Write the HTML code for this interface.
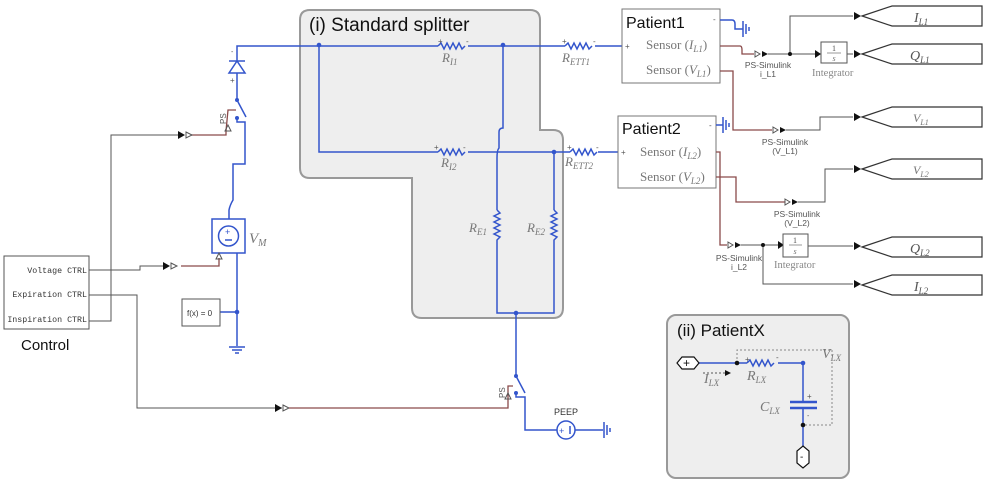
<!DOCTYPE html>
<html><head><style>
html,body{margin:0;padding:0;background:#fff;}
svg{display:block;}
.b{stroke:#3355cc;stroke-width:1.5;fill:none}
.g{stroke:#555;stroke-width:1;fill:none}
.r{stroke:#8a4a4a;stroke-width:1.3;fill:none}
.m{font-family:"Liberation Serif",serif;font-style:italic;fill:#777}
.s{font-family:"Liberation Sans",sans-serif}
.mono{font-family:"Liberation Mono",monospace;font-size:8.3px;fill:#333}
</style></head><body>
<svg width="988" height="485" viewBox="0 0 988 485" xmlns="http://www.w3.org/2000/svg">
<path d="M310,10 H530 Q540,10 540,20 V130 H553 Q563,130 563,140 V308 Q563,318 553,318 H422 Q412,318 412,308 V178 H310 Q300,178 300,168 V20 Q300,10 310,10 Z" fill="#eeeeee" stroke="#999" stroke-width="2"/>
<text x="309" y="31" class="s" font-size="19" fill="#111">(i) Standard splitter</text>
<rect x="667" y="315" width="182" height="163" rx="9" fill="#eeeeee" stroke="#999" stroke-width="2"/>
<text x="677" y="336" class="s" font-size="17" fill="#111">(ii) PatientX</text>

<path class="b" d="M237,58 V46 H438 M468,46 H565 M595,46 H622"/>
<path class="b" d="M319,46 V152 H438 M468,152 H570 M598,152 H620"/>
<path class="b" d="M503,46 V128 Q499,128 499,132 V148 Q497,150 497,158 V210 M497,246 V313 H554 V246 M554,210 V152"/>
<path class="b" d="M516,313 V376"/>
<circle cx="319" cy="45" r="2.3" fill="#3355cc"/>
<circle cx="503" cy="45" r="2.3" fill="#3355cc"/>
<circle cx="554" cy="152" r="2.3" fill="#3355cc"/>
<circle cx="516" cy="313" r="2.3" fill="#3355cc"/>
<g class="b" stroke-width="1.2">
<path d="M438,46 l3,-3 l3,6 l3,-6 l3,6 l3,-6 l3,6 l3,-6 l3,6 l3,-3"/>
<path d="M565,46 l3,-3 l3,6 l3,-6 l3,6 l3,-6 l3,6 l3,-6 l3,6 l3,-3"/>
<path d="M438,152 l3,-3 l3,6 l3,-6 l3,6 l3,-6 l3,6 l3,-6 l3,6 l3,-3"/>
<path d="M570,152 l3,-3 l3,6 l3,-6 l3,6 l3,-6 l3,6 l3,-6 l3,6 l3,-3"/>
<path d="M497,210 l3,3 l-6,3 l6,3 l-6,3 l6,3 l-6,3 l6,3 l-6,3 l6,3 l-3,3 V246"/>
<path d="M554,210 l3,3 l-6,3 l6,3 l-6,3 l6,3 l-6,3 l6,3 l-6,3 l6,3 l-3,3 V246"/>
</g>
<g class="m" font-size="13">
<text x="442" y="62">R<tspan font-size="9" dy="3">I1</tspan></text>
<text x="562" y="62">R<tspan font-size="9" dy="3">ETT1</tspan></text>
<text x="441" y="167">R<tspan font-size="9" dy="3">I2</tspan></text>
<text x="565" y="166">R<tspan font-size="9" dy="3">ETT2</tspan></text>
<text x="469" y="232">R<tspan font-size="9" dy="3">E1</tspan></text>
<text x="527" y="232">R<tspan font-size="9" dy="3">E2</tspan></text>
</g>
<g font-size="8" fill="#555" class="s">
<text x="438" y="44">+</text><text x="466" y="44">-</text>
<text x="562" y="44">+</text><text x="593" y="44">-</text>
<text x="434" y="150">+</text><text x="463" y="150">-</text>
<text x="567" y="150">+</text><text x="596" y="150">-</text>
</g>

<path class="b" d="M237,58 V62 M229,61 H245 M237,61 L229,73 H245 Z M237,73 V100"/>
<text x="231" y="54" font-size="7" fill="#555" class="s">-</text>
<text x="230" y="83" font-size="8" fill="#555" class="s">+</text>
<circle cx="237" cy="100" r="2" fill="#3355cc"/>
<path class="b" d="M237,100 L246,117"/>
<circle cx="237" cy="118" r="2" fill="#3355cc"/>
<path class="b" d="M237,118 V122 H245 V164 H233 V200 Q230,205 229,210 V219"/>
<path class="r" d="M189,135 H226 V131 L228,110 H236"/>
<path fill="none" stroke="#555" d="M225,131 l3,-6 l3,6 Z"/>
<text x="0" y="0" font-size="8" fill="#555" class="s" transform="translate(226,124) rotate(-90)">PS</text>
<rect x="212" y="219" width="33" height="34" fill="none" stroke="#3355cc" stroke-width="1.5"/>
<circle cx="228.5" cy="236" r="10" class="b"/>
<text x="225" y="235" font-size="9" fill="#3355cc" class="s">+</text>
<path class="b" d="M225,240 h7" stroke-width="1"/>
<text x="249" y="243" class="m" font-size="15">V<tspan font-size="10" dy="3">M</tspan></text>
<path class="b" d="M237,253 V346"/>
<path class="b" d="M229,347 H245 M232,350 H242 M235,353 H239" stroke-width="1"/>
<circle cx="237" cy="312" r="2.3" fill="#3355cc"/>
<path class="b" d="M220,312 H237"/>
<rect x="182" y="299" width="38" height="27" fill="#fff" stroke="#555"/>
<text x="187" y="316" font-size="8" fill="#333" class="s">f(x) = 0</text>
<path class="r" d="M181,266 H219 V258"/>
<path fill="none" stroke="#555" d="M216,259 l3,-6 l3,6 Z"/>

<rect x="4" y="256" width="85" height="73" fill="#fff" stroke="#555"/>
<text x="87" y="273" class="mono" text-anchor="end">Voltage CTRL</text>
<text x="87" y="297" class="mono" text-anchor="end">Expiration CTRL</text>
<text x="87" y="322" class="mono" text-anchor="end">Inspiration CTRL</text>
<text x="21" y="350" class="s" font-size="15" fill="#111">Control</text>
<path class="g" d="M89,270 H140 V266 H163"/>
<path class="g" d="M89,321 H111 V135 H178"/>
<path class="g" d="M89,295 H137 V408 H282"/>
<g fill="#111">
<path d="M163,262 l7,4 l-7,4 Z"/><path d="M178,131 l7,4 l-7,4 Z"/><path d="M275,404 l7,4 l-7,4 Z"/>
</g>
<g fill="#fff" stroke="#555">
<path d="M171,263 l6,3 l-6,3 Z"/><path d="M186,132 l6,3 l-6,3 Z"/><path d="M283,405 l6,3 l-6,3 Z"/>
</g>
<path class="r" d="M289,408 H508 V386 H513"/>
<path fill="none" stroke="#555" d="M505,399 l3,-6 l3,6 Z"/>
<text x="0" y="0" font-size="8" fill="#555" class="s" transform="translate(505,398) rotate(-90)">PS</text>
<circle cx="516" cy="376" r="2" fill="#3355cc"/>
<path class="b" d="M516,376 L525,393"/>
<circle cx="516" cy="393" r="2" fill="#3355cc"/>
<path class="b" d="M516,393 V397 H525 V430 H557 M575,430 H603"/>
<circle cx="566" cy="430" r="9" class="b"/>
<text x="559" y="434" font-size="9" fill="#3355cc" class="s">+</text>
<path class="b" d="M570,426 v8" stroke-width="1"/>
<path class="b" d="M604,422 V438 M607,425 V435 M610,428 V432" stroke-width="1"/>
<text x="554" y="415" font-size="9" fill="#333" class="s">PEEP</text>

<rect x="622" y="9" width="98" height="74" fill="#fff" stroke="#777"/>
<text x="626" y="28" class="s" font-size="16" fill="#111">Patient1</text>
<text x="646" y="49" font-family="Liberation Serif,serif" font-size="13" fill="#777">Sensor (<tspan font-style="italic">I</tspan><tspan font-size="9" font-style="italic" dy="3">L1</tspan><tspan dy="-3">)</tspan></text>
<text x="646" y="74" font-family="Liberation Serif,serif" font-size="13" fill="#777">Sensor (<tspan font-style="italic">V</tspan><tspan font-size="9" font-style="italic" dy="3">L1</tspan><tspan dy="-3">)</tspan></text>
<text x="625" y="49" font-size="8" fill="#555" class="s">+</text>
<text x="713" y="22" font-size="8" fill="#555" class="s">-</text>
<rect x="618" y="116" width="98" height="72" fill="#fff" stroke="#777"/>
<text x="622" y="134" class="s" font-size="16" fill="#111">Patient2</text>
<text x="640" y="156" font-family="Liberation Serif,serif" font-size="13" fill="#777">Sensor (<tspan font-style="italic">I</tspan><tspan font-size="9" font-style="italic" dy="3">L2</tspan><tspan dy="-3">)</tspan></text>
<text x="640" y="181" font-family="Liberation Serif,serif" font-size="13" fill="#777">Sensor (<tspan font-style="italic">V</tspan><tspan font-size="9" font-style="italic" dy="3">L2</tspan><tspan dy="-3">)</tspan></text>
<text x="621" y="155" font-size="8" fill="#555" class="s">+</text>
<text x="709" y="128" font-size="8" fill="#555" class="s">-</text>
<path class="b" d="M720,20 H732 Q735,20 735,24 V29 H743 M743,21 V37 M746,24 V34 M749,27 V31" stroke-width="1.2"/>
<path class="b" d="M716,125 H723 M723,117 V133 M726,120 V130 M729,123 V127" stroke-width="1.2"/>

<path class="r" d="M720,46 H740 Q742,46 742,50 V54 H754"/>
<path class="r" d="M720,71 H733 V130 H772"/>
<path class="r" d="M716,152 H720 V245 H727"/>
<path class="r" d="M716,177 H736 V202 H785"/>
<g fill="#fff" stroke="#555">
<path d="M755,51 l5,3 l-5,3 Z"/><path d="M773,127 l5,3 l-5,3 Z"/><path d="M728,242 l5,3 l-5,3 Z"/><path d="M785,199 l5,3 l-5,3 Z"/>
</g>
<g fill="#111">
<path d="M762,51 l6,3 l-6,3 Z"/><path d="M780,127 l6,3 l-6,3 Z"/><path d="M735,242 l6,3 l-6,3 Z"/><path d="M792,199 l6,3 l-6,3 Z"/>
</g>
<path class="g" d="M768,54 H815 M790,54 V16 H853 M846,54 H853"/>
<path class="g" d="M786,130 H820 V117 H853"/>
<path class="g" d="M741,245 H778 M763,245 V284 H853 M808,246 H853"/>
<path class="g" d="M798,202 H825 V169 H853"/>
<circle cx="790" cy="54" r="2" fill="#111"/>
<circle cx="763" cy="245" r="2" fill="#111"/>
<g fill="#111">
<path d="M815,50 l6,4 l-6,4 Z"/><path d="M778,241 l6,4 l-6,4 Z"/>
<path d="M854,12 l7,4 l-7,4 Z"/><path d="M854,50 l7,4 l-7,4 Z"/><path d="M854,113 l7,4 l-7,4 Z"/>
<path d="M854,165 l7,4 l-7,4 Z"/><path d="M854,242 l7,4 l-7,4 Z"/><path d="M854,280 l7,4 l-7,4 Z"/>
</g>
<rect x="821" y="42" width="26" height="21" fill="#fff" stroke="#555"/>
<text x="834" y="51" font-size="8" fill="#555" text-anchor="middle" font-family="Liberation Serif,serif">1</text>
<path d="M827,53 h14" stroke="#555" stroke-width="0.6"/>
<text x="834" y="61" font-size="8" fill="#555" text-anchor="middle" class="m">s</text>
<text x="812" y="76" font-size="10.5" fill="#888" font-family="Liberation Serif,serif">Integrator</text>
<rect x="783" y="234" width="25" height="23" fill="#fff" stroke="#555"/>
<text x="795" y="243" font-size="8" fill="#555" text-anchor="middle" font-family="Liberation Serif,serif">1</text>
<path d="M789,245 h13" stroke="#555" stroke-width="0.6"/>
<text x="795" y="254" font-size="8" fill="#555" text-anchor="middle" class="m">s</text>
<text x="774" y="268" font-size="10.5" fill="#888" font-family="Liberation Serif,serif">Integrator</text>
<g font-size="8.5" fill="#555" class="s" text-anchor="middle">
<text x="768" y="68">PS-Simulink</text><text x="768" y="77">i_L1</text>
<text x="785" y="145">PS-Simulink</text><text x="785" y="154">(V_L1)</text>
<text x="797" y="217">PS-Simulink</text><text x="797" y="226">(V_L2)</text>
<text x="739" y="261">PS-Simulink</text><text x="739" y="270">i_L2</text>
</g>
<g fill="#fff" stroke="#333" stroke-width="1.2">
<path d="M862,16 L892,6 H982 V26 H892 Z"/>
<path d="M862,54 L892,44 H982 V64 H892 Z"/>
<path d="M862,117 L892,107 H982 V127 H892 Z"/>
<path d="M862,169 L892,159 H982 V179 H892 Z"/>
<path d="M862,247 L892,237 H982 V257 H892 Z"/>
<path d="M862,285 L892,275 H982 V295 H892 Z"/>
</g>
<g class="m" font-size="14">
<text x="914" y="22" fill="#555">I<tspan font-size="9" dy="3">L1</tspan></text>
<text x="910" y="60" fill="#555">Q<tspan font-size="9" dy="3">L1</tspan></text>
<text x="913" y="122" font-size="12">V<tspan font-size="8" dy="3">L1</tspan></text>
<text x="913" y="174" font-size="12">V<tspan font-size="8" dy="3">L2</tspan></text>
<text x="910" y="253" fill="#555">Q<tspan font-size="9" dy="3">L2</tspan></text>
<text x="914" y="291" fill="#555">I<tspan font-size="9" dy="3">L2</tspan></text>
</g>

<path d="M737,363 V350 H832 V425 H803" fill="none" stroke="#888" stroke-dasharray="2,2"/>
<path class="b" d="M699,363 H747 M778,363 H803 V402 M803,409 V447"/>
<path class="b" stroke-width="1.2" d="M747,363 l3,-3 l3,6 l3,-6 l3,6 l3,-6 l3,6 l3,-6 l3,6 l3,-3"/>
<path d="M790,402 H817 M790,408 H817" stroke="#3355cc" stroke-width="2.5"/>
<circle cx="737" cy="363" r="2.3" fill="#111"/>
<circle cx="803" cy="363" r="2.3" fill="#3355cc"/>
<circle cx="803" cy="425" r="2.3" fill="#111"/>
<path d="M677,363 l5,-6 h12 l5,6 l-5,6 h-12 Z" fill="#fff" stroke="#111" stroke-width="1.2"/>
<text x="683" y="367" font-size="12" fill="#111" class="s">+</text>
<path d="M803,446 l6,5 v12 l-6,5 l-6,-5 v-12 Z" fill="#fff" stroke="#111" stroke-width="1.2"/>
<text x="800" y="460" font-size="10" fill="#111" class="s">-</text>
<path d="M703,373 H725" stroke="#555" stroke-dasharray="2,2"/>
<path d="M725,370 l6,3 l-6,3 Z" fill="#111"/>
<g class="m" font-size="14">
<text x="704" y="383">I<tspan font-size="9" dy="3">LX</tspan></text>
<text x="747" y="380">R<tspan font-size="9" dy="3">LX</tspan></text>
<text x="822" y="358">V<tspan font-size="9" dy="3">LX</tspan></text>
<text x="760" y="411">C<tspan font-size="9" dy="3">LX</tspan></text>
</g>
<text x="745" y="362" font-size="8" fill="#555" class="s">+</text>
<text x="776" y="360" font-size="8" fill="#555" class="s">-</text>
<text x="807" y="399" font-size="8" fill="#555" class="s">+</text>
<text x="807" y="418" font-size="7" fill="#555" class="s">-</text>
</svg>
</body></html>
